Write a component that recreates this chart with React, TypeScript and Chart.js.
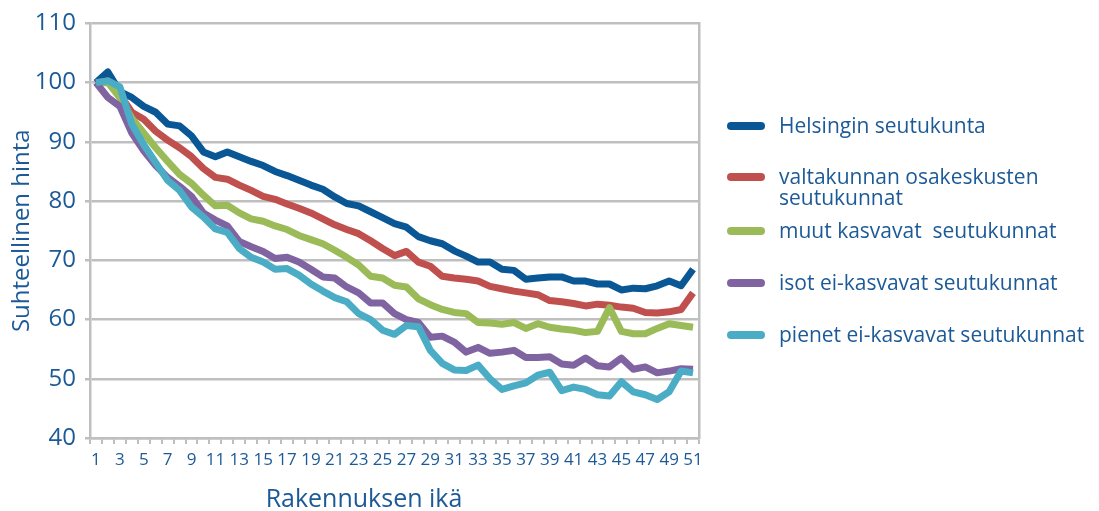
import React, { useEffect, useRef } from "react";
import { Chart, registerables } from "chart.js";
Chart.register(...registerables);

const ages = ["1","2","3","4","5","6","7","8","9","10","11","12","13","14","15","16","17","18","19","20","21","22","23","24","25","26","27","28","29","30","31","32","33","34","35","36","37","38","39","40","41","42","43","44","45","46","47","48","49","50","51"];

const helsinki = [100,101.8,98.5,97.5,96,95,93,92.7,91,88.3,87.5,88.3,87.5,86.7,86,85,84.3,83.5,82.7,82,80.7,79.6,79.2,78.2,77.2,76.2,75.6,74,73.3,72.8,71.6,70.7,69.7,69.7,68.5,68.3,66.8,67,67.2,67.2,66.5,66.5,66,66,65,65.3,65.2,65.7,66.5,65.7,68.5];
const valtakunnan = [100,100.3,98,95,93.8,91.8,90.3,89,87.5,85.5,84,83.7,82.7,81.8,80.8,80.3,79.5,78.8,78,77,76,75.2,74.5,73.3,72,70.8,71.5,69.7,69,67.3,67,66.8,66.5,65.6,65.2,64.8,64.5,64.2,63.2,63,62.7,62.3,62.6,62.4,62.1,61.9,61.2,61.1,61.3,61.7,64.5];
const muutKasvavat = [100,100,97.5,94,91.5,89,86.7,84.5,83,81,79.2,79.3,78,77,76.6,75.8,75.2,74.2,73.5,72.8,71.7,70.5,69.2,67.3,67,65.8,65.5,63.5,62.5,61.7,61.2,61,59.5,59.4,59.2,59.5,58.5,59.3,58.7,58.4,58.2,57.8,58,62,58,57.6,57.6,58.5,59.3,59,58.7];
const isotEiKasvavat = [100,97.5,96,91.5,88.5,86,84,82.5,80.8,78,76.8,75.8,73.2,72.3,71.5,70.3,70.5,69.7,68.5,67.2,67,65.5,64.5,62.8,62.8,61,60,59.5,57,57.2,56.2,54.5,55.3,54.3,54.5,54.8,53.6,53.6,53.7,52.5,52.3,53.5,52.2,52,53.5,51.6,52,51,51.3,51.7,51.6];
const pienetEiKasvavat = [100,100.3,99.3,93,89.5,86.5,83.5,81.8,79,77.3,75.3,74.7,72,70.5,69.7,68.5,68.6,67.5,66,64.8,63.7,63,61,60,58.2,57.5,59,58.8,54.8,52.6,51.5,51.4,52.3,50,48.2,48.8,49.3,50.6,51.1,48,48.6,48.2,47.3,47.1,49.5,47.8,47.3,46.5,47.8,51.3,51];

const seriesNames = [
  "Helsingin seutukunta",
  "valtakunnan osakeskusten seutukunnat",
  "muut kasvavat  seutukunnat",
  "isot ei-kasvavat seutukunnat",
  "pienet ei-kasvavat seutukunnat",
];
const legendLines = [
  ["Helsingin seutukunta"],
  ["valtakunnan osakeskusten", "seutukunnat"],
  ["muut kasvavat  seutukunnat"],
  ["isot ei-kasvavat seutukunnat"],
  ["pienet ei-kasvavat seutukunnat"],
];
const seriesValues = [helsinki, valtakunnan, muutKasvavat, isotEiKasvavat, pienetEiKasvavat];
const seriesColors = ["#0a5796", "#c0504d", "#9bbb59", "#8064a2", "#4bacc6"];

const yMin = 40;
const yMax = 110;
const yStep = 10;

const yTitle = "Suhteellinen hinta";
const xTitle = "Rakennuksen ikä";

const textColor = "#1c5a97";
const gridColor = "#bfbfbf";
const FONT = "'Open Sans', sans-serif";

export default function App() {
  const ref = useRef<HTMLCanvasElement>(null);

  useEffect(() => {
    const chart = new Chart(ref.current!, {
      type: "line",
      data: {
        labels: ages,
        datasets: seriesValues.map((vals, i) => ({
          label: seriesNames[i],
          data: vals,
          borderColor: seriesColors[i],
          backgroundColor: seriesColors[i],
          borderWidth: 7,
          pointRadius: 0,
          tension: 0,
          fill: false,
          borderJoinStyle: "round" as const,
          order: seriesValues.length - i,
        })),
      },
      options: {
        animation: false,
        responsive: true,
        maintainAspectRatio: false,
        layout: { padding: { left: 0, right: 400, top: 22, bottom: 43 } },
        plugins: { legend: { display: false }, tooltip: { enabled: false } },
        scales: {
          x: {
            type: "category",
            offset: true,
            afterFit: (s: any) => { s.height = 30; },
            grid: {
              offset: true,
              drawOnChartArea: false,
              drawTicks: true,
              tickLength: 6,
              color: gridColor,
              lineWidth: 2,
            },
            border: { color: gridColor, width: 2.5 },
            ticks: {
              autoSkip: false,
              maxRotation: 0,
              padding: 6,
              color: textColor,
              font: { family: FONT, size: 17 },
              callback: (_v: any, idx: number) => (idx % 2 === 0 ? ages[idx] : ""),
            },
          },
          y: {
            min: yMin,
            max: yMax,
            afterFit: (s: any) => { s.width = 90; },
            ticks: {
              stepSize: yStep,
              padding: 9,
              color: textColor,
              font: { family: FONT, size: 24 },
            },
            grid: { color: gridColor, lineWidth: 2.5, tickLength: 5 },
            border: { color: gridColor, width: 2.5 },
            title: {
              display: true,
              text: yTitle,
              color: textColor,
              font: { family: FONT, size: 24, weight: "normal" },
              padding: { top: 8, bottom: 0 },
            },
          },
          y2: {
            position: "right",
            afterFit: (s: any) => { s.width = 0; },
            ticks: { display: false },
            grid: { drawOnChartArea: false, drawTicks: false },
            border: { color: gridColor, width: 2.5 },
          },
        },
      },
    });
    return () => chart.destroy();
  }, []);

  const legendTops = [126, 177, 231, 283, 335];

  return (
    <div style={{ position: "absolute", left: 0, top: 0, width: 1099, height: 511, background: "#fff", fontFamily: FONT }}>
      <div style={{ position: "absolute", left: 0, top: 0, width: 1099, height: 511 }}>
        <canvas ref={ref} />
      </div>
      {legendLines.map((lines, i) => (
        <div key={i}>
          <div
            style={{
              position: "absolute",
              left: 727,
              top: legendTops[i] - 4,
              width: 38,
              height: 8,
              borderRadius: 4,
              background: seriesColors[i],
            }}
          />
          <div
            style={{
              position: "absolute",
              left: 779,
              top: legendTops[i] - 11,
              color: textColor,
              fontSize: 21,
              lineHeight: "21px",
              whiteSpace: "pre",
            }}
          >
            {lines.join("\n")}
          </div>
        </div>
      ))}
      <div
        style={{
          position: "absolute",
          left: 364,
          top: 482,
          transform: "translateX(-50%)",
          color: textColor,
          fontSize: 25,
          lineHeight: "30px",
          whiteSpace: "nowrap",
        }}
      >
        {xTitle}
      </div>
    </div>
  );
}
